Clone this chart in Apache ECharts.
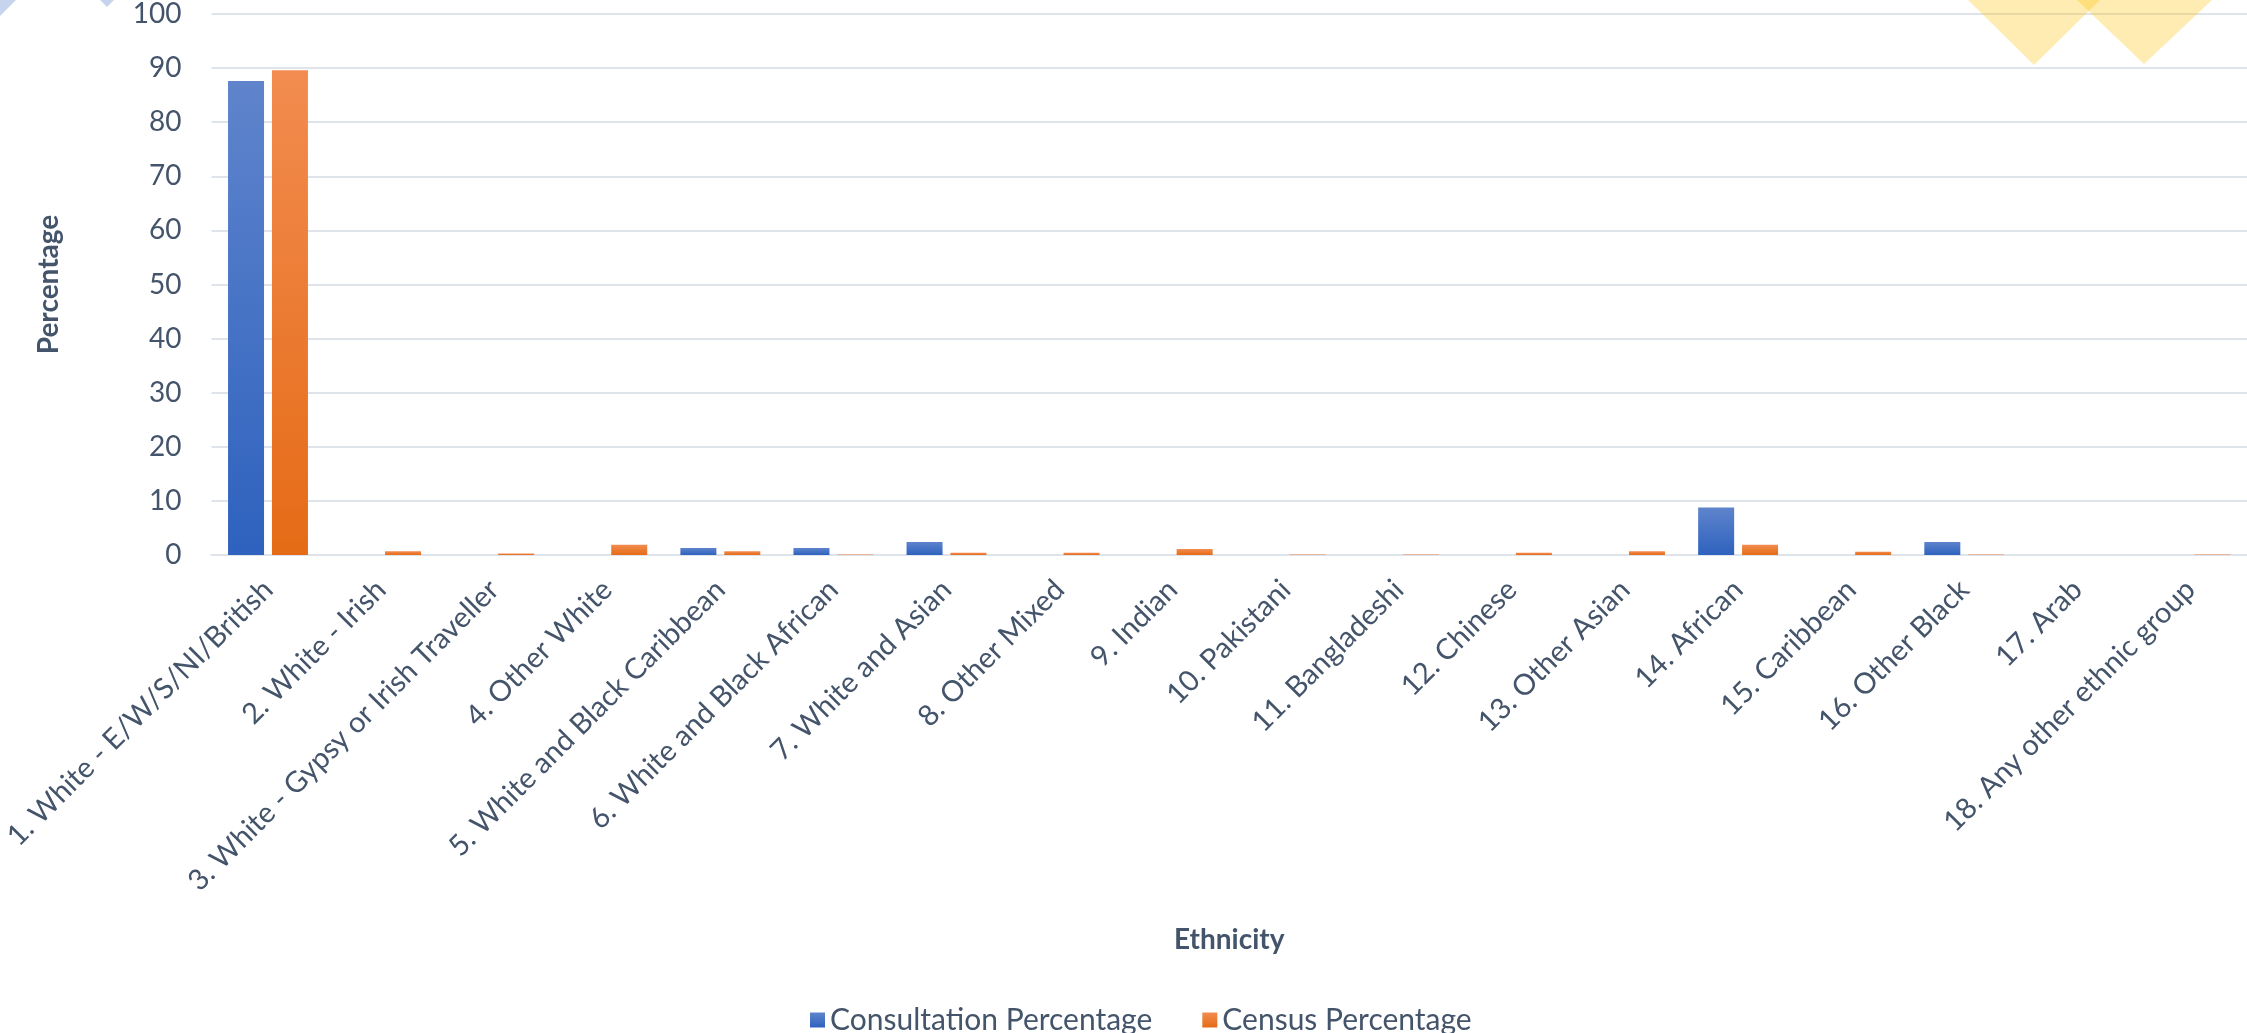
<!DOCTYPE html>
<html>
<head>
<meta charset="utf-8">
<script src="https://cdn.jsdelivr.net/npm/echarts@6/dist/echarts.min.js"></script>
<style>
html,body{margin:0;padding:0;background:#fff;}
#chart{width:2247px;height:1033px;}
</style>
</head>
<body>
<div id="chart"></div>
<script>
const categories = [
  "1. White - E/W/S/NI/British",
  "2. White - Irish",
  "3. White - Gypsy or Irish Traveller",
  "4. Other White",
  "5. White and Black Caribbean",
  "6. White and Black African",
  "7. White and Asian",
  "8. Other Mixed",
  "9. Indian",
  "10. Pakistani",
  "11. Bangladeshi",
  "12. Chinese",
  "13. Other Asian",
  "14. African",
  "15. Caribbean",
  "16. Other Black",
  "17. Arab",
  "18. Any other ethnic group"
];
const consultationPct = [87.6, 0, 0, 0, 1.3, 1.3, 2.4, 0, 0, 0, 0, 0, 0, 8.8, 0, 2.4, 0, 0];
const censusPct = [89.6, 0.7, 0.3, 1.9, 0.7, 0.1, 0.4, 0.4, 1.1, 0.1, 0.1, 0.4, 0.7, 1.9, 0.6, 0.1, 0, 0.1];
const yTicks = { min: 0, max: 100, interval: 10 };

const textColor = '#44546A';
const font = 'Lato';
const chart = echarts.init(document.getElementById('chart'));
chart.setOption({
  animation: false,
  backgroundColor: '#fff',
  textStyle: { fontFamily: font, color: textColor },
  graphic: [
    { type: 'polygon', silent: true, z: -1, shape: { points: [[0,0],[16,0],[0,16]] }, style: { fill: 'rgba(68,114,196,0.3)' } },
    { type: 'polygon', silent: true, z: -1, shape: { points: [[100,0],[114,0],[107,7]] }, style: { fill: 'rgba(68,114,196,0.3)' } },
    { type: 'polygon', silent: true, z: 10, shape: { points: [[1968,0],[2100,0],[2034,65]] }, style: { fill: 'rgba(255,192,0,0.3)' } },
    { type: 'polygon', silent: true, z: 10, shape: { points: [[2077,0],[2212,0],[2144,64]] }, style: { fill: 'rgba(255,192,0,0.3)' } }
  ],
  grid: { left: 205, right: 0, top: 14, bottom: 478, containLabel: false },
  legend: {
    left: 805, top: 1000,
    itemWidth: 15, itemHeight: 15, itemGap: 50,
    icon: 'rect',
    textStyle: { fontFamily: font, fontSize: 30, color: textColor },
    data: ['Consultation Percentage', 'Census Percentage']
  },
  xAxis: {
    type: 'category',
    data: categories,
    name: 'Ethnicity',
    nameLocation: 'middle',
    nameGap: 371,
    nameTextStyle: { fontFamily: font, fontSize: 28, fontWeight: 'bold', color: textColor },
    axisTick: { show: false },
    axisLine: { lineStyle: { color: '#DFE3EA', width: 2 } },
    axisLabel: { rotate: 45, margin: 30, fontFamily: font, fontSize: 29, color: textColor, interval: 0 }
  },
  yAxis: {
    type: 'value',
    min: yTicks.min, max: yTicks.max, interval: yTicks.interval,
    name: 'Percentage',
    nameLocation: 'middle',
    nameGap: 148,
    nameRotate: 90,
    nameTextStyle: { fontFamily: font, fontSize: 28, fontWeight: 'bold', color: textColor },
    axisLine: { show: false },
    axisTick: { show: false },
    splitLine: { lineStyle: { color: '#DFE3EA', width: 2 } },
    axisLabel: { margin: 30, fontFamily: font, fontSize: 28, color: textColor }
  },
  series: [
    {
      name: 'Consultation Percentage',
      type: 'bar',
      data: consultationPct,
      barWidth: 36,
      barGap: '22%',
      itemStyle: { color: new echarts.graphic.LinearGradient(0,0,0,1,[{offset:0,color:'#5F84CC'},{offset:1,color:'#2E62BE'}]) }
    },
    {
      name: 'Census Percentage',
      type: 'bar',
      data: censusPct,
      barWidth: 36,
      barGap: '22%',
      itemStyle: { color: new echarts.graphic.LinearGradient(0,0,0,1,[{offset:0,color:'#F28C50'},{offset:1,color:'#E56B16'}]) }
    }
  ]
});
</script>
</body>
</html>
